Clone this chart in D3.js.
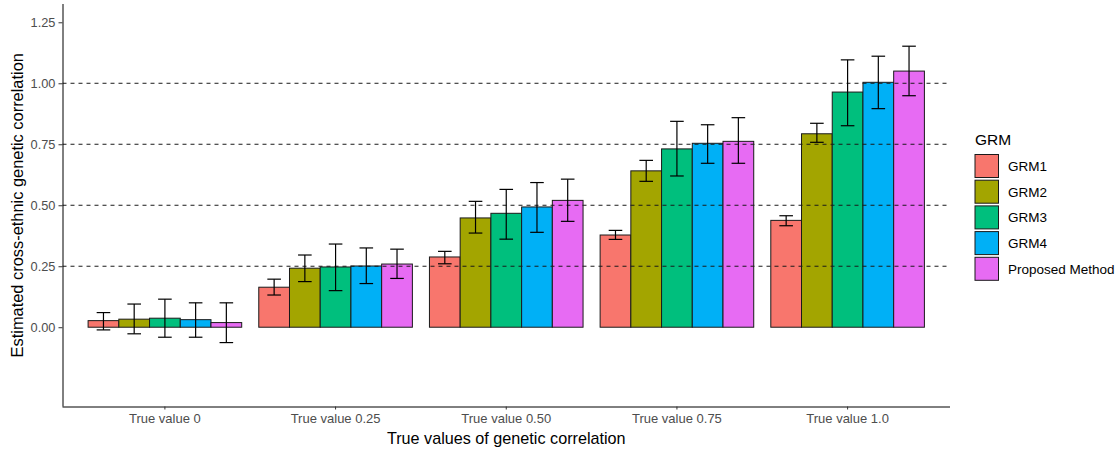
<!DOCTYPE html>
<html>
<head>
<meta charset="utf-8">
<script src="https://cdnjs.cloudflare.com/ajax/libs/d3/7.8.5/d3.min.js"></script>
<style>
  body { margin: 0; background: #fff; }
  svg { display: block; font-family: "Liberation Sans", Arial, sans-serif; }
  .tick-label { fill: #4d4d4d; }
</style>
</head>
<body>
<svg id="chart" width="1118" height="453"></svg>
<script>
// Categories on the x axis.
var categories = ['True value 0', 'True value 0.25', 'True value 0.50',
  'True value 0.75', 'True value 1.0'];

// GRM series (legend order).
var series = ['GRM1', 'GRM2', 'GRM3', 'GRM4', 'Proposed Method'];

// Estimated correlation, one array per series (one value per category).
var grm1 = [0.027, 0.164, 0.288, 0.378, 0.438];
var grm2 = [0.033, 0.242, 0.448, 0.641, 0.793];
var grm3 = [0.037, 0.247, 0.467, 0.731, 0.964];
var grm4 = [0.031, 0.251, 0.493, 0.754, 1.004];
var proposed = [0.019, 0.259, 0.520, 0.762, 1.050];

// Error bar lower / upper ends.
var grm1Low = [-0.011, 0.132, 0.260, 0.360, 0.416];
var grm1High = [0.060, 0.197, 0.311, 0.397, 0.457];
var grm2Low = [-0.027, 0.187, 0.386, 0.598, 0.758];
var grm2High = [0.095, 0.296, 0.516, 0.684, 0.836];
var grm3Low = [-0.041, 0.150, 0.361, 0.620, 0.826];
var grm3High = [0.115, 0.341, 0.565, 0.844, 1.096];
var grm4Low = [-0.041, 0.179, 0.389, 0.672, 0.896];
var grm4High = [0.100, 0.325, 0.593, 0.830, 1.111];
var proposedLow = [-0.063, 0.200, 0.434, 0.672, 0.949];
var proposedHigh = [0.100, 0.320, 0.607, 0.859, 1.152];

// Y axis ticks and reference lines.
var yTicks = [0, 0.25, 0.5, 0.75, 1, 1.25];
var refLines = [0.25, 0.5, 0.75, 1.0];

var colors = ['#F8766D', '#A3A500', '#00BF7D', '#00B0F6', '#E76BF3'];

var values = [grm1, grm2, grm3, grm4, proposed];
var lows = [grm1Low, grm2Low, grm3Low, grm4Low, proposedLow];
var highs = [grm1High, grm2High, grm3High, grm4High, proposedHigh];

// Flatten to one row per bar.
var rows = [];
categories.forEach(function(cat, ci) {
  series.forEach(function(s, si) {
    rows.push({
      cat: cat,
      series: s,
      color: colors[si],
      value: values[si][ci],
      low: lows[si][ci],
      high: highs[si][ci]
    });
  });
});

var panel = {left: 62.5, right: 950, top: 4, bottom: 406.5};

var svg = d3.select('#chart');

var x = d3.scaleBand()
  .domain(categories)
  .range([panel.left, panel.right])
  .paddingInner(0)
  .paddingOuter(0.1);

// Dodge: bars fill 90% of each category slot.
var xInner = d3.scaleBand()
  .domain(series)
  .range([-0.45 * x.step(), 0.45 * x.step()]);

var y = d3.scaleLinear()
  .domain([-0.325, 1.325])
  .range([panel.bottom, panel.top]);

var center = function(d) {
  return x(d.cat) + x.bandwidth() / 2;
};

// Bars.
svg.append('g')
  .selectAll('rect')
  .data(rows)
  .enter().append('rect')
  .attr('x', function(d) { return center(d) + xInner(d.series); })
  .attr('y', function(d) { return y(d.value); })
  .attr('width', xInner.bandwidth())
  .attr('height', function(d) { return y(0) - y(d.value); })
  .attr('fill', function(d) { return d.color; })
  .attr('stroke', '#1a1a1a')
  .attr('stroke-width', 1);

// Dashed reference lines, drawn over the bars.
svg.append('g')
  .selectAll('line')
  .data(refLines)
  .enter().append('line')
  .attr('x1', panel.left)
  .attr('x2', panel.right)
  .attr('y1', function(d) { return y(d); })
  .attr('y2', function(d) { return y(d); })
  .attr('stroke', '#1a1a1a')
  .attr('stroke-width', 1)
  .attr('stroke-dasharray', '4,4');

// Error bars.
var whisker = 6.8;
var err = svg.append('g')
  .attr('stroke', '#000')
  .attr('stroke-width', 1.2)
  .selectAll('g')
  .data(rows)
  .enter().append('g')
  .attr('transform', function(d) {
    var cx = center(d) + xInner(d.series) + xInner.bandwidth() / 2;
    return 'translate(' + cx + ',0)';
  });
err.append('line')
  .attr('y1', function(d) { return y(d.low); })
  .attr('y2', function(d) { return y(d.high); });
err.append('line')
  .attr('x1', -whisker).attr('x2', whisker)
  .attr('y1', function(d) { return y(d.low); })
  .attr('y2', function(d) { return y(d.low); });
err.append('line')
  .attr('x1', -whisker).attr('x2', whisker)
  .attr('y1', function(d) { return y(d.high); })
  .attr('y2', function(d) { return y(d.high); });

// Y axis.
var yAxis = svg.append('g')
  .attr('transform', 'translate(' + panel.left + ',0)')
  .call(d3.axisLeft(y)
    .tickValues(yTicks)
    .tickFormat(d3.format('.2f'))
    .tickSize(4)
    .tickPadding(3));
yAxis.select('.domain')
  .attr('d', 'M0.5,' + panel.top + 'V' + panel.bottom)
  .attr('stroke', '#000');
yAxis.selectAll('.tick line').attr('stroke', '#333');
yAxis.selectAll('.tick text')
  .attr('class', 'tick-label')
  .style('font-size', '12.8px')
  .style('font-family', '"Liberation Sans", Arial, sans-serif');

// X axis.
var xAxis = svg.append('g')
  .attr('transform', 'translate(0,' + panel.bottom + ')')
  .call(d3.axisBottom(x).tickSize(3).tickPadding(4));
xAxis.select('.domain')
  .attr('d', 'M' + panel.left + ',0.5H' + panel.right)
  .attr('stroke', '#000');
xAxis.selectAll('.tick line').attr('stroke', '#333');
xAxis.selectAll('.tick text')
  .attr('class', 'tick-label')
  .style('font-size', '13px')
  .style('font-family', '"Liberation Sans", Arial, sans-serif');

// Axis titles.
svg.append('text')
  .attr('x', (panel.left + panel.right) / 2)
  .attr('y', 444)
  .attr('text-anchor', 'middle')
  .style('font-size', '16.2px')
  .text('True values of genetic correlation');

svg.append('text')
  .attr('transform', 'translate(23,' + (panel.top + panel.bottom) / 2 +
    ') rotate(-90)')
  .attr('text-anchor', 'middle')
  .style('font-size', '16.4px')
  .text('Estimated cross-ethnic genetic correlation');

// Legend.
var legend = svg.append('g')
  .attr('transform', 'translate(975,0)');
legend.append('text')
  .attr('x', 0)
  .attr('y', 145)
  .style('font-size', '15.5px')
  .text('GRM');
var keys = legend.selectAll('g.key')
  .data(series)
  .enter().append('g')
  .attr('class', 'key')
  .attr('transform', function(d, i) {
    return 'translate(0,' + (154.5 + i * 25.7) + ')';
  });
keys.append('rect')
  .attr('width', 23.5)
  .attr('height', 23)
  .attr('fill', function(d, i) { return colors[i]; })
  .attr('stroke', '#1a1a1a')
  .attr('stroke-width', 1);
keys.append('text')
  .attr('x', 33)
  .attr('y', 11.5)
  .attr('dy', '0.36em')
  .style('font-size', '13.5px')
  .text(function(d) { return d; });
</script>
</body>
</html>
